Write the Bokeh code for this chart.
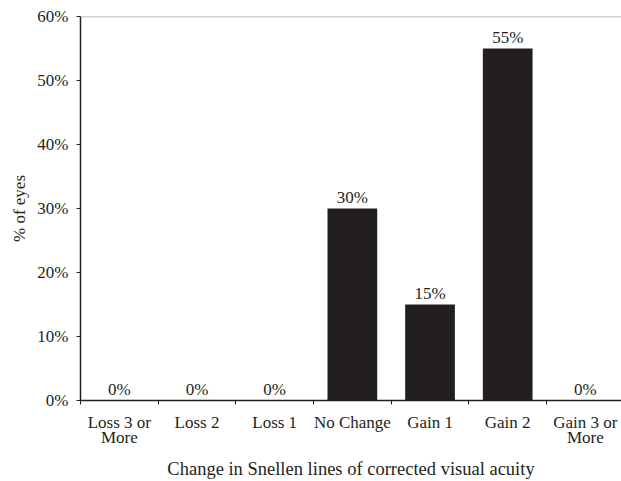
from bokeh.plotting import figure
from bokeh.models import (Range1d, FixedTicker, PrintfTickFormatter, Span, ColumnDataSource)
from bokeh.core.properties import value
from bokeh.embed import file_html
from bokeh.resources import INLINE

categories = ["Loss 3 or\nMore", "Loss 2", "Loss 1", "No Change", "Gain 1", "Gain 2", "Gain 3 or\nMore"]
percent_eyes = [0, 0, 0, 30, 15, 55, 0]
y_ticks = [0, 10, 20, 30, 40, 50, 60]

FONT = "Liberation Serif"
INK = "#231f20"
FS = "17px"

xs = [i + 0.5 for i in range(len(categories))]
labels = [f"{v}%" for v in percent_eyes]
src = ColumnDataSource(dict(x=xs, top=percent_eyes, label=labels))

p = figure(width=621, height=481, output_backend="svg", toolbar_location=None,
           x_range=Range1d(0, 6.965), y_range=Range1d(0, 60),
           min_border_left=80, min_border_right=0, min_border_top=16, min_border_bottom=81)
p.outline_line_color = None
p.grid.visible = False
p.background_fill_color = "white"
p.border_fill_color = "white"

p.vbar(x="x", top="top", width=0.64, bottom=0, source=src, fill_color=INK, line_color=None)
p.text(x="x", y="top", text="label", source=src, text_align="center", text_baseline="alphabetic",
       y_offset=-11, text_font=value(FONT), text_font_size=FS, text_color=INK)

p.add_layout(Span(location=60, dimension="width", line_color="#a6a6a6", line_width=1.7))

# x axis: labels at centers, tick marks at category boundaries (minor ticks)
xa = p.xaxis[0]
xa.ticker = FixedTicker(ticks=xs, minor_ticks=list(range(len(categories) + 1)))
xa.major_label_overrides = {x: c for x, c in zip(xs, categories)}
xa.major_tick_line_color = None
xa.minor_tick_line_color = INK
xa.minor_tick_out = 4
xa.minor_tick_in = 0
xa.axis_line_color = INK
xa.axis_line_width = 1.5
xa.major_label_text_font = FONT
xa.major_label_text_font_size = FS
xa.major_label_text_color = INK
xa.major_label_text_line_height = 0.8
xa.major_label_standoff = 6
xa.axis_label = "Change in Snellen lines of corrected visual acuity"
xa.axis_label_text_font = FONT
xa.axis_label_text_font_size = "18.5px"
xa.axis_label_text_font_style = "normal"
xa.axis_label_text_color = INK
xa.axis_label_standoff = 9

ya = p.yaxis[0]
ya.ticker = FixedTicker(ticks=y_ticks, minor_ticks=[])
ya.formatter = PrintfTickFormatter(format="%d%%")
ya.major_tick_out = 4
ya.major_tick_in = 0
ya.major_tick_line_color = INK
ya.axis_line_color = INK
ya.axis_line_width = 1.5
ya.major_label_text_font = FONT
ya.major_label_text_font_size = FS
ya.major_label_text_color = INK
ya.major_label_standoff = 8
ya.axis_label = "% of eyes"
ya.axis_label_text_font = FONT
ya.axis_label_text_font_size = FS
ya.axis_label_text_font_style = "normal"
ya.axis_label_text_color = INK
ya.axis_label_standoff = 5

open("out.html", "w").write(file_html(p, INLINE))
